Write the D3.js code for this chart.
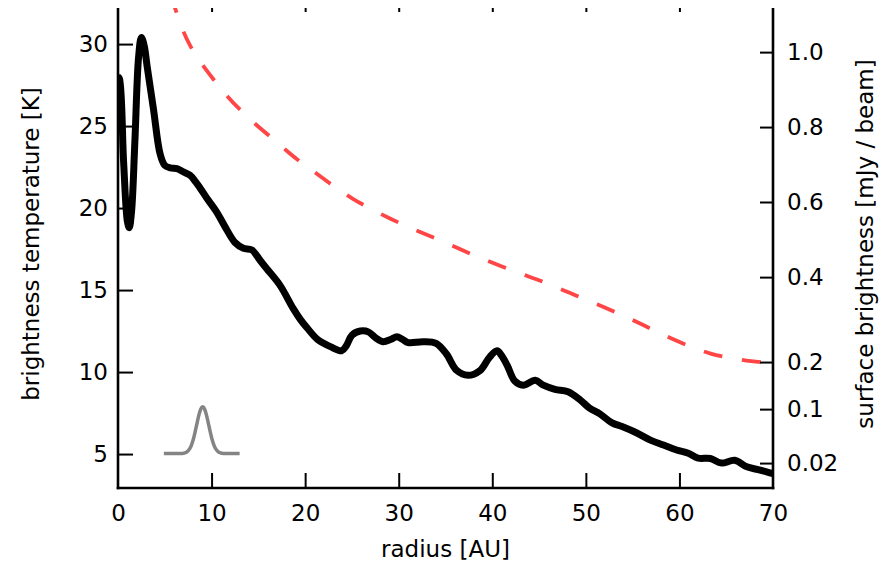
<!DOCTYPE html>
<html>
<head>
<meta charset="utf-8">
<script src="https://cdn.jsdelivr.net/npm/d3@7"></script>
<style>
  html, body { margin: 0; padding: 0; background: #fff; }
  svg { display: block; font-family: "DejaVu Sans", sans-serif; }
</style>
</head>
<body>
<svg id="chart" width="886" height="564"></svg>
<script>
// ---- data ----
const radius = [0, 0.15, 0.6, 1.0, 1.2, 1.45, 1.8, 2.2, 2.5, 2.8, 3.1, 3.8, 4.5, 5.0, 5.6, 6.3, 7.0, 7.7, 8.3, 8.8, 9.5, 10.5, 11.4, 12.5, 13.4, 14.3, 15.2, 15.9, 17.3, 18.7, 19.5, 20.2, 21.4, 22.7, 23.9, 24.4, 25.0, 25.9, 26.75, 27.5, 28.3, 29.2, 29.8, 30.4, 31.0, 32.6, 34.0, 35.1, 36.2, 37.4, 38.7, 39.7, 40.5, 41.0, 41.6, 42.4, 43.3, 44.6, 45.45, 46.7, 48.1, 49.4, 50.4, 51.5, 52.8, 54.0, 55.4, 56.9, 58.3, 59.7, 60.95, 62.0, 63.3, 64.5, 65.9, 67.2, 68.4, 69.5, 70.0];
const brightnessT = [28.0, 27.9, 22.8, 19.2, 18.8, 19.8, 24.0, 29.2, 30.4, 29.9, 28.7, 26.0, 23.3, 22.6, 22.45, 22.4, 22.2, 22.0, 21.6, 21.2, 20.6, 19.8, 18.9, 17.9, 17.55, 17.45, 16.8, 16.3, 15.3, 13.9, 13.2, 12.7, 11.95, 11.55, 11.3, 11.6, 12.25, 12.5, 12.45, 12.1, 11.85, 12.0, 12.15, 12.0, 11.8, 11.85, 11.75, 11.1, 10.1, 9.8, 10.1, 10.9, 11.3, 11.0, 10.4, 9.45, 9.2, 9.5, 9.2, 8.95, 8.8, 8.3, 7.8, 7.45, 6.9, 6.65, 6.3, 5.85, 5.55, 5.25, 5.05, 4.75, 4.73, 4.45, 4.62, 4.22, 4.05, 3.88, 3.8];

const modelRadius = [5.6, 6.1, 6.8, 7.6, 8.9, 10.2, 11.6, 13.1, 14.8, 16.5, 18.2, 19.6, 21.5, 23.2, 25.1, 27.0, 29.1, 31.0, 33.1, 35.0, 37.1, 39.0, 41.1, 43.2, 45.1, 47.2, 49.1, 51.2, 53.3, 55.3, 57.2, 59.2, 61.3, 63.3, 65.5, 67.6, 70.0];
const modelT = [33.0, 32.2, 31.0, 29.95, 28.8, 27.85, 26.85, 25.95, 25.05, 24.25, 23.4, 22.75, 22.0, 21.25, 20.55, 19.95, 19.35, 18.85, 18.35, 17.9, 17.35, 16.9, 16.42, 15.98, 15.58, 15.1, 14.62, 14.15, 13.62, 13.1, 12.57, 12.02, 11.52, 11.1, 10.85, 10.66, 10.53];

const beamRadius = [4.9, 6.85, 7.15, 7.45, 7.65, 7.85, 8.05, 8.25, 8.45, 8.65, 8.85, 9.05, 9.25, 9.45, 9.65, 9.85, 10.05, 10.25, 10.45, 10.65, 10.95, 11.25, 13.0];
const beamT = [5.03, 5.04, 5.07, 5.17, 5.31, 5.55, 5.9, 6.37, 6.89, 7.39, 7.75, 7.88, 7.75, 7.39, 6.89, 6.37, 5.9, 5.55, 5.31, 5.17, 5.07, 5.04, 5.03];

const xTicks = [0, 10, 20, 30, 40, 50, 60, 70];
const yTicks = [5, 10, 15, 20, 25, 30];
const rightTickLabels = ["1.0", "0.8", "0.6", "0.4", "0.2", "0.1", "0.02"];
const rightTickTemps = [29.51, 24.94, 20.37, 15.79, 10.61, 7.74, 4.45];

const xLabel = "radius [AU]";
const yLabel = "brightness temperature [K]";
const y2Label = "surface brightness [mJy / beam]";

// ---- layout ----
const mLeft = 118, mRight = 773, mTop = 8, mBottom = 488;
const svg = d3.select("#chart");
const x = d3.scaleLinear().domain([0, 70]).range([mLeft, mRight]);
const y = d3.scaleLinear().domain([2.93, 32.2]).range([mBottom, mTop]);
const FS = 23;

svg.append("defs").append("clipPath").attr("id", "clip")
  .append("rect").attr("x", mLeft).attr("y", mTop).attr("width", mRight - mLeft).attr("height", mBottom - mTop);

const plot = svg.append("g").attr("clip-path", "url(#clip)");

// model (red dashed)
plot.append("path")
  .datum(modelRadius.map((r, i) => [r, modelT[i]]))
  .attr("fill", "none")
  .attr("stroke", "#ff4545")
  .attr("stroke-width", 3.8)
  .attr("stroke-dasharray", "19,20")
  .attr("d", d3.line().x(d => x(d[0])).y(d => y(d[1])).curve(d3.curveBasis));

// beam (gray)
plot.append("path")
  .datum(beamRadius.map((r, i) => [r, beamT[i]]))
  .attr("fill", "none")
  .attr("stroke", "#848484")
  .attr("stroke-width", 3.5)
  .attr("stroke-linejoin", "round")
  .attr("d", d3.line().x(d => x(d[0])).y(d => y(d[1])).curve(d3.curveMonotoneX));

// profile (black)
plot.append("path")
  .datum(radius.map((r, i) => [r, brightnessT[i]]))
  .attr("fill", "none")
  .attr("stroke", "#000")
  .attr("stroke-width", 7)
  .attr("stroke-linejoin", "round")
  .attr("stroke-linecap", "butt")
  .attr("d", d3.line().x(d => x(d[0])).y(d => y(d[1])).curve(d3.curveCatmullRom.alpha(0.5)));

// ---- axes ----
const axisStyle = g => {
  g.selectAll(".domain").remove();
  g.selectAll(".tick line").attr("stroke", "#000").attr("stroke-width", 2);
  g.selectAll(".tick text").attr("fill", "#000").attr("font-size", FS).attr("font-family", "DejaVu Sans");
};

// bottom axis (ticks inward)
svg.append("g").attr("transform", `translate(0,${mBottom})`)
  .call(d3.axisBottom(x).tickValues(xTicks).tickFormat(d3.format("d")).tickSizeInner(-15).tickSizeOuter(0).tickPadding(17))
  .call(axisStyle)
  .call(g => g.selectAll(".tick").filter(d => d === 0 || d === 70).select("line").remove());

// top ticks (small, inward)
svg.append("g").attr("transform", `translate(0,${mTop})`)
  .call(d3.axisTop(x).tickValues(xTicks.filter(d => d > 0 && d < 70)).tickFormat("").tickSizeInner(-4).tickSizeOuter(0))
  .call(axisStyle);

// left axis
svg.append("g").attr("transform", `translate(${mLeft},0)`)
  .call(d3.axisLeft(y).tickValues(yTicks).tickFormat(d3.format("d")).tickSizeInner(-15).tickSizeOuter(0).tickPadding(10))
  .call(axisStyle)
  .call(g => g.selectAll(".tick text").attr("x", -10));

// right axis
const y2 = y.copy();
svg.append("g").attr("transform", `translate(${mRight},0)`)
  .call(d3.axisRight(y2).tickValues(rightTickTemps).tickFormat((d, i) => rightTickLabels[i]).tickSizeInner(-13).tickSizeOuter(0).tickPadding(14))
  .call(axisStyle)
  .call(g => g.selectAll(".tick text").attr("x", 14));

// spines
const spine = (x1, y1, x2, y2v) => svg.append("line").attr("x1", x1).attr("y1", y1).attr("x2", x2).attr("y2", y2v)
  .attr("stroke", "#000").attr("stroke-width", 2.6);
spine(mLeft, mTop, mLeft, mBottom + 1.3);
spine(mRight, mTop, mRight, mBottom + 1.3);
spine(mLeft - 1.3, mBottom, mRight + 1.3, mBottom);

// labels
svg.append("text").attr("x", (mLeft + mRight) / 2).attr("y", 557)
  .attr("text-anchor", "middle").attr("font-size", FS).text(xLabel);
svg.append("text").attr("transform", `translate(39,${(mTop + mBottom) / 2 - 4}) rotate(-90)`)
  .attr("text-anchor", "middle").attr("font-size", FS).text(yLabel);
svg.append("text").attr("transform", `translate(873,${(mTop + mBottom) / 2 - 4}) rotate(-90)`)
  .attr("text-anchor", "middle").attr("font-size", FS).text(y2Label);
</script>
</body>
</html>
